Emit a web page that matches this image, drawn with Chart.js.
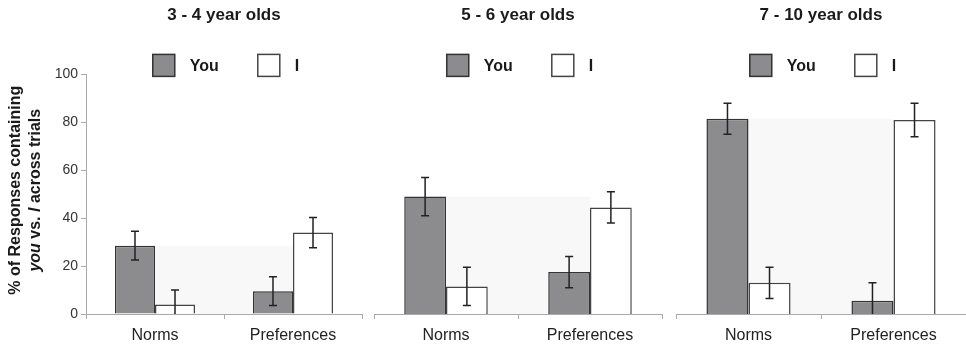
<!DOCTYPE html>
<html>
<head>
<meta charset="utf-8">
<script src="https://cdn.jsdelivr.net/npm/chart.js@4.4.0/dist/chart.umd.min.js"></script>
<style>
  html, body { margin: 0; padding: 0; background: #fff; }
  #wrap { position: relative; width: 966px; height: 346px; overflow: hidden; }
  #wrap canvas { position: absolute; top: 0; }
</style>
</head>
<body>
<div id="wrap">
  <canvas id="c0" width="368" height="346" style="left:0"></canvas>
  <canvas id="c1" width="300" height="346" style="left:368px"></canvas>
  <canvas id="c2" width="298" height="346" style="left:668px"></canvas>
</div>
<script>
// values
const panelTitles = ['3 - 4 year olds', '5 - 6 year olds', '7 - 10 year olds'];
const categories = ['Norms', 'Preferences'];
const seriesLabels = ['You', 'I'];
const youMeans = [[28.5, 9.5], [49, 17.5], [81.5, 5.5]];
const youErrors = [[6, 6], [8, 6.5], [6.5, 7.5]];
const iMeans = [[4, 34], [11.5, 44.5], [13, 81]];
const iErrors = [[6, 6.3], [8, 6.5], [6.5, 7]];
const yMin = 0, yMax = 100, yStep = 20;

const FONT = "'Liberation Sans', Arial, sans-serif";
Chart.defaults.font.family = FONT;

// error bars, drawn on top of each bar
const errorBars = {
  id: 'errorBars',
  afterDatasetsDraw(chart) {
    const ctx = chart.ctx, y = chart.scales.y;
    ctx.save();
    ctx.strokeStyle = '#222';
    ctx.lineWidth = 1.5;
    chart.data.datasets.forEach((ds, d) => {
      chart.getDatasetMeta(d).data.forEach((bar, i) => {
        const v = ds.data[i], e = ds.errors[i];
        const top = y.getPixelForValue(v + e);
        const bot = y.getPixelForValue(Math.max(0, v - e));
        ctx.beginPath();
        ctx.moveTo(bar.x, top); ctx.lineTo(bar.x, bot);
        ctx.moveTo(bar.x - 4, top); ctx.lineTo(bar.x + 4, top);
        if (v - e > 0) { ctx.moveTo(bar.x - 4, bot); ctx.lineTo(bar.x + 4, bot); }
        ctx.stroke();
      });
    });
    ctx.restore();
  }
};

// faint back-wall band between the outer bars
const band = {
  id: 'band',
  beforeDatasetsDraw(chart) {
    const ctx = chart.ctx, y = chart.scales.y;
    const a = chart.getDatasetMeta(0).data[0];
    const b = chart.getDatasetMeta(1).data[1];
    const top = y.getPixelForValue(chart.data.datasets[0].data[0]);
    ctx.save();
    ctx.fillStyle = '#f8f8f8';
    ctx.fillRect(a.x + a.width / 2, top, (b.x - b.width / 2) - (a.x + a.width / 2), y.bottom - top);
    ctx.restore();
  }
};

// legend with big boxes sitting just above the plot
const boxLegend = {
  id: 'boxLegend',
  afterDraw(chart) {
    const ctx = chart.ctx, area = chart.chartArea;
    const top = area.top - 20;
    ctx.save();
    ctx.font = 'bold 16px ' + FONT;
    const items = chart.data.datasets.map(ds => ({ ds, w: 22 + 15 + ctx.measureText(ds.label).width }));
    const total = items.reduce((s, it) => s + it.w, 0) + 39 * (items.length - 1);
    let x = (area.left + area.right) / 2 - total / 2 + 2;
    items.forEach(it => {
      ctx.fillStyle = it.ds.backgroundColor;
      ctx.fillRect(x, top, 22, 22);
      ctx.strokeStyle = it.ds.borderColor;
      ctx.lineWidth = 1.5;
      ctx.strokeRect(x, top, 22, 22);
      ctx.fillStyle = '#1a1a1a';
      ctx.textBaseline = 'middle';
      ctx.textAlign = 'left';
      ctx.fillText(it.ds.label, x + 37, top + 12);
      x += it.w + 39;
    });
    ctx.restore();
  }
};

// two-line y title with italic "you" and "I"
const yTitle = {
  id: 'yTitle',
  afterDraw(chart) {
    const ctx = chart.ctx, area = chart.chartArea;
    const cy = (area.top + area.bottom) / 2 - 4;
    const bold = 'bold 16px ' + FONT, ital = 'italic bold 16px ' + FONT;
    ctx.save();
    ctx.fillStyle = '#1a1a1a';
    ctx.textBaseline = 'middle';
    ctx.translate(16, cy);
    ctx.rotate(-Math.PI / 2);
    ctx.font = bold;
    ctx.textAlign = 'center';
    ctx.fillText('% of Responses containing', 0, 0);
    const parts = [['you', ital], [' vs. ', bold], ['I', ital], [' across trials', bold]];
    let w = 0;
    parts.forEach(p => { ctx.font = p[1]; w += ctx.measureText(p[0]).width; });
    let x = -w / 2;
    ctx.textAlign = 'left';
    parts.forEach(p => { ctx.font = p[1]; ctx.fillText(p[0], x, 20); x += ctx.measureText(p[0]).width; });
    ctx.restore();
  }
};

function makePanel(k, id, showY, pad) {
  const plugins = [band, errorBars, boxLegend];
  if (showY) plugins.push(yTitle);
  return new Chart(document.getElementById(id), {
    type: 'bar',
    data: {
      labels: categories,
      datasets: [
        { label: seriesLabels[0], data: youMeans[k], errors: youErrors[k],
          backgroundColor: '#8c8c8e', borderColor: '#333', borderWidth: 1.5,
          categoryPercentage: 0.58, barPercentage: 1 },
        { label: seriesLabels[1], data: iMeans[k], errors: iErrors[k],
          backgroundColor: '#ffffff', borderColor: '#444', borderWidth: 1.5,
          categoryPercentage: 0.58, barPercentage: 1 }
      ]
    },
    options: {
      responsive: false,
      animation: false,
      layout: { padding: pad },
      plugins: {
        legend: { display: false },
        tooltip: { enabled: false },
        title: {
          display: true, text: panelTitles[k], fullSize: false,
          font: { size: 17, weight: 'bold' }, color: '#1a1a1a',
          padding: { top: 5, bottom: 49 }
        }
      },
      scales: {
        x: {
          grid: { offset: true, drawOnChartArea: false, tickLength: 5, color: '#aaa' },
          border: { color: '#aaa' },
          ticks: { font: { size: 16 }, color: '#222', padding: 7 },
          afterFit: s => { s.height = 32; }
        },
        y: {
          display: showY, min: yMin, max: yMax,
          ticks: { stepSize: yStep, font: { size: 14 }, color: '#333', padding: 3 },
          grid: { drawOnChartArea: false, tickLength: 5, color: '#aaa' },
          border: { color: '#aaa' },
          afterFit: s => { if (showY) s.width = 86; }
        }
      }
    },
    plugins: plugins
  });
}

makePanel(0, 'c0', true, { left: 0, right: 6, top: 0, bottom: 0 });
makePanel(1, 'c1', false, { left: 6, right: 6, top: 0, bottom: 0 });
makePanel(2, 'c2', false, { left: 8, right: 0, top: 0, bottom: 0 });
</script>
</body>
</html>
